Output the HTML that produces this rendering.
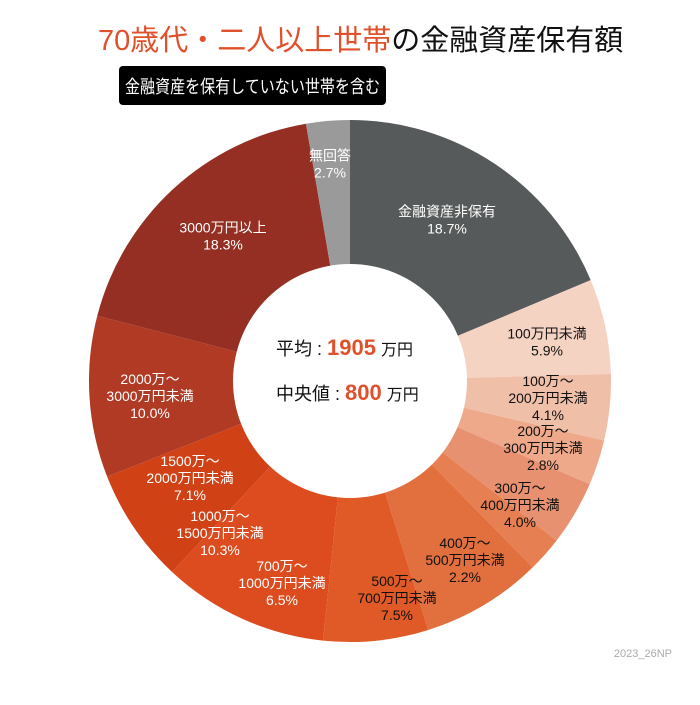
<!DOCTYPE html>
<html><head><meta charset="utf-8">
<style>
body{margin:0;background:#fff;width:700px;height:700px;overflow:hidden;font-family:"Liberation Sans","Noto Sans CJK JP",sans-serif;}
</style></head>
<body>
<svg width="700" height="700" xmlns="http://www.w3.org/2000/svg" id="chart">
<rect width="700" height="700" fill="#fff"/>
<text x="98" y="50" font-size="29" font-family="Liberation Sans, Noto Sans CJK JP, sans-serif"><tspan fill="#e0502a">70歳代・二人以上世帯</tspan><tspan fill="#111">の金融資産保有額</tspan></text>
<rect x="119" y="66" width="267" height="39" rx="4" fill="#000"/>
<text x="125" y="93" font-size="18" fill="#fff" textLength="255" lengthAdjust="spacingAndGlyphs" font-family="Liberation Sans, Noto Sans CJK JP, sans-serif">金融資産を保有していない世帯を含む</text>
<g id="slices"></g>
<g id="labels"></g>
<circle cx="350" cy="381" r="117" fill="#fff"/>
<text x="276" y="355" font-size="18" fill="#111" font-family="Liberation Sans, Noto Sans CJK JP, sans-serif">平均 : <tspan fill="#e0502a" font-size="22" font-weight="bold">1905</tspan> <tspan font-size="16">万円</tspan></text>
<text x="276" y="400" font-size="18" fill="#111" font-family="Liberation Sans, Noto Sans CJK JP, sans-serif">中央値 : <tspan fill="#e0502a" font-size="22" font-weight="bold">800</tspan> <tspan font-size="16">万円</tspan></text>
<text x="672" y="657" font-size="11" fill="#aaa" text-anchor="end">2023_26NP</text>
</svg>
<script>
const categories=[["金融資産非保有"],["100万円未満"],["100万～","200万円未満"],["200万～","300万円未満"],["300万～","400万円未満"],["400万～","500万円未満"],["500万～","700万円未満"],["700万～","1000万円未満"],["1000万～","1500万円未満"],["1500万～","2000万円未満"],["2000万～","3000万円未満"],["3000万円以上"],["無回答"]];
const values=[18.7,5.9,4.1,2.8,4.0,2.2,7.5,6.5,10.3,7.1,10.0,18.3,2.7];
const colors=["#575a5a","#f5d3c3","#f0bfa8","#eda98a","#e89170","#e67f52","#e2703e","#df5a26","#dc4c1f","#d04216","#b13a25","#952f23","#9a9a9a"];
const textColors=["#fff","#111","#111","#111","#111","#111","#111","#fff","#fff","#fff","#fff","#fff","#fff"];
const cx=350,cy=381,R=261;
const labelAnchors=[[447,220],[547,342],[548,398],[543,448],[520,505],[465,560],[397,598],[282,583],[220,533],[190,478],[150,396],[223,236],[330,164]];
const total=values.reduce((a,b)=>a+b,0);
const sg=document.getElementById('slices'),lg=document.getElementById('labels');
const NS="http://www.w3.org/2000/svg";
let acc=0;
function pt(a,r){return [cx+r*Math.sin(a),cy-r*Math.cos(a)];}
values.forEach((v,i)=>{
  const a0=acc/total*2*Math.PI;acc+=v;const a1=acc/total*2*Math.PI;
  const p0=pt(a0,R),p1=pt(a1,R);
  const large=(a1-a0)>Math.PI?1:0;
  const p=document.createElementNS(NS,'path');
  p.setAttribute('d',`M${cx},${cy}L${p0[0]},${p0[1]}A${R},${R} 0 ${large} 1 ${p1[0]},${p1[1]}Z`);
  p.setAttribute('fill',colors[i]);
  
  
  sg.appendChild(p);
  const c=labelAnchors[i];
  const lines=categories[i].concat([v.toFixed(1)+"%"]);
  const t=document.createElementNS(NS,'text');
  t.setAttribute('text-anchor','middle');
  t.setAttribute('font-size','14');
  t.setAttribute('fill',textColors[i]);
  t.setAttribute('font-family','Liberation Sans, Noto Sans CJK JP, sans-serif');
  
  
  const lh=17,start=c[1]-(lines.length-1)*lh/2+5;
  lines.forEach((s,k)=>{const ts=document.createElementNS(NS,'tspan');ts.setAttribute('x',c[0]);ts.setAttribute('y',start+k*lh);ts.textContent=s;t.appendChild(ts);});
  lg.appendChild(t);
});
</script>
</body></html>
